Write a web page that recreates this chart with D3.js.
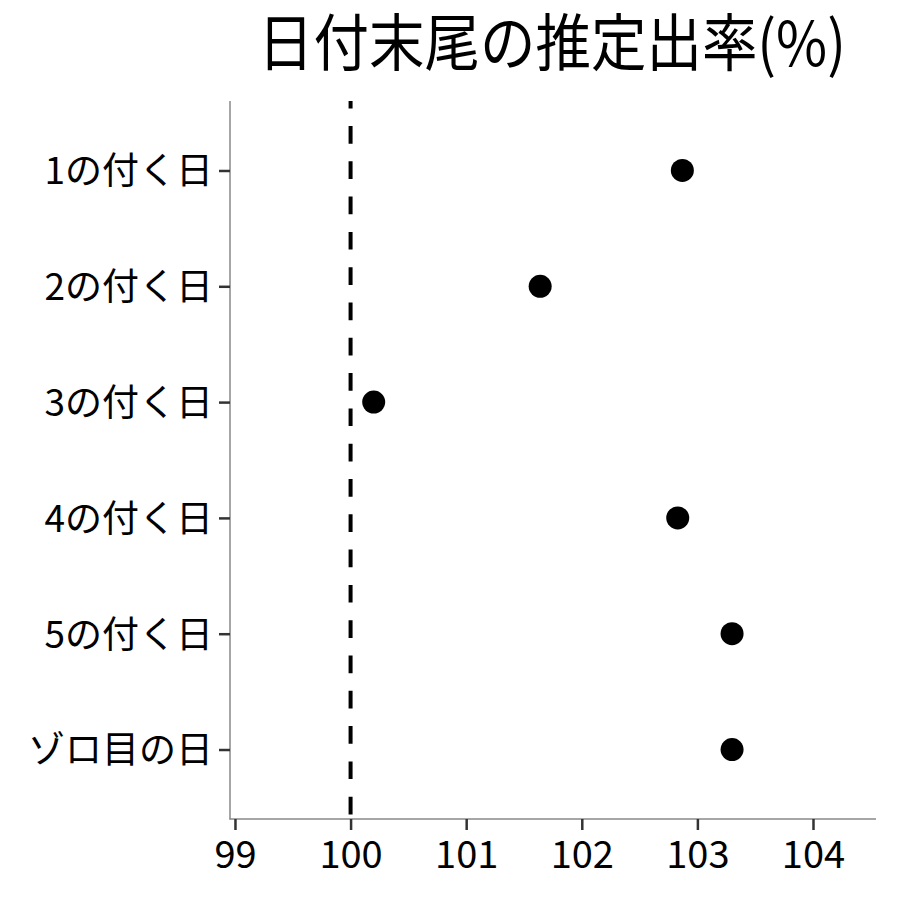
<!DOCTYPE html>
<html><head><meta charset="utf-8">
<script src="https://cdn.jsdelivr.net/npm/d3@7"></script>
<style>body{margin:0;background:#fff}text{font-family:"Noto Sans CJK JP","Noto Sans",sans-serif}</style>
</head><body><svg id="c" width="900" height="900"></svg>
<script>
const categories = ["1の付く日","2の付く日","3の付く日","4の付く日","5の付く日","ゾロ目の日"];
const values = [102.87, 101.64, 100.20, 102.83, 103.30, 103.30];
const xTicks = [99,100,101,102,103,104];
const refValue = 100;
const title = "日付末尾の推定出率(%)";

const svg = d3.select("#c");
const L = 230, R = 876, T = 101, B = 819;
const x = d3.scaleLinear().domain([98.957, 104.545]).range([L, R]);
const y = d3.scalePoint().domain(categories).range([T, B]).padding(0.6);

// axes lines
svg.append("line").attr("x1",L).attr("x2",L).attr("y1",T).attr("y2",B+0.5).attr("stroke","#888").attr("stroke-width",1.5);
svg.append("line").attr("x1",L-0.5).attr("x2",R).attr("y1",B).attr("y2",B).attr("stroke","#888").attr("stroke-width",1.5);

// x axis
const xa = svg.append("g").attr("transform",`translate(0,${B})`)
  .call(d3.axisBottom(x).tickValues(xTicks).tickSize(11).tickPadding(0).tickFormat(d3.format("d")));
xa.select(".domain").remove();
xa.selectAll(".tick line").attr("stroke","#333").attr("stroke-width",2.5);
xa.selectAll(".tick text").attr("y",49).attr("dy",null).attr("fill","#000").attr("font-size",38)
  .attr("font-family",'"Noto Sans CJK JP"');

// y axis
const ya = svg.append("g").attr("transform",`translate(${L},0)`)
  .call(d3.axisLeft(y).tickSize(11).tickPadding(6));
ya.select(".domain").remove();
ya.selectAll(".tick line").attr("stroke","#333").attr("stroke-width",2.5);
ya.selectAll(".tick text").attr("fill","#000").attr("font-size",37)
  .attr("dy","0.36em").attr("font-family",'"Noto Sans CJK JP"');

// reference line
svg.append("line").attr("x1",x(refValue)).attr("x2",x(refValue)).attr("y1",T).attr("y2",B)
  .attr("stroke","#000").attr("stroke-width",4).attr("stroke-dasharray","17.7,17.6").attr("stroke-dashoffset",10.3);

// points
svg.selectAll("circle.pt").data(values).join("circle").attr("class","pt")
  .attr("cx",d=>x(d)).attr("cy",(d,i)=>y(categories[i])).attr("r",11.5).attr("fill","#000");

// title (horizontally condensed like the reference)
const tg = svg.append("g");
const tt = tg.append("text").attr("x",0).attr("y",0).attr("text-anchor","middle")
  .attr("font-size",62).attr("fill","#000").text(title);
const w = tt.node().getComputedTextLength();
const sx = 588 / w;
tg.attr("transform",`translate(${(L+R)/2 - 1},66) scale(${sx},1)`);
</script></body></html>
